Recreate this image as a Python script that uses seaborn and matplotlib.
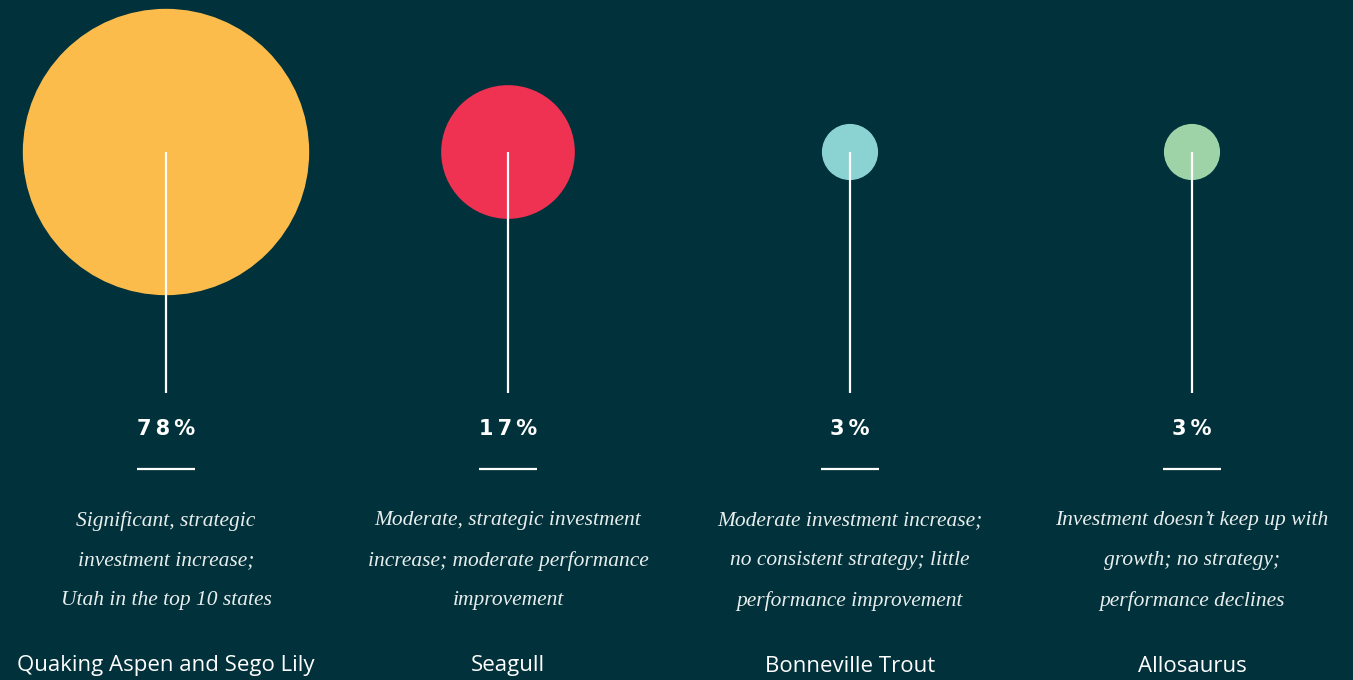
import pandas as pd
import seaborn as sns
import matplotlib.pyplot as plt

names = ['Quaking Aspen and Sego Lily', 'Seagull', 'Bonneville Trout', 'Allosaurus']
pct = [78, 17, 3, 3]
descriptions = [
    'Significant, strategic\ninvestment increase;\nUtah in the top 10 states',
    'Moderate, strategic investment\nincrease; moderate performance\nimprovement',
    'Moderate investment increase;\nno consistent strategy; little\nperformance improvement',
    'Investment doesn\u2019t keep up with\ngrowth; no strategy;\nperformance declines',
]
colors = ['#FBBC4C', '#EF3152', '#8BD3D3', '#9ED3A8']

bg = '#01313A'
sns.set_theme(style='white', rc={'figure.facecolor': bg, 'axes.facecolor': bg})

df = pd.DataFrame({'name': names, 'pct': pct, 'pos': range(len(names))})
df['y'] = 152  # circle row, in pixel-like units

f = plt.figure(figsize=(13.53, 6.8), dpi=100)
ax = f.add_axes([0, 0, 1, 1])

# area proportional to share
k = 545
sns.scatterplot(data=df, x='pos', y='y', hue='name', palette=colors,
                size='pct', sizes={v: v * k for v in set(pct)},
                linewidth=0, legend=False, ax=ax, zorder=2)

ax.vlines(df['pos'], 152, 393, color='white', lw=1.6, zorder=3)
ax.hlines([469] * len(df), df['pos'] - 0.085, df['pos'] + 0.085, color='white', lw=1.6)

for i, row in df.iterrows():
    label = '\u2009'.join(f"{row['pct']}%")  # spaced out like the original
    ax.text(row['pos'], 429, label, ha='center', va='center',
            color='white', fontsize=15, fontweight='bold', family='DejaVu Sans')
    for j, line in enumerate(descriptions[i].split('\n')):
        ax.text(row['pos'], 521 + 40 * j, line, ha='center', va='center',
                color='#E8EEEE', fontsize=15.5, style='italic', family='Liberation Serif')
    ax.text(row['pos'], 666, row['name'], ha='center', va='center',
            color='white', fontsize=16, family='Open Sans')

ax.set_xlim(-166 / 342, (1353 - 166) / 342)
ax.set_ylim(680, 0)
ax.axis('off')

plt.savefig('out.png', dpi=100, facecolor=bg)
